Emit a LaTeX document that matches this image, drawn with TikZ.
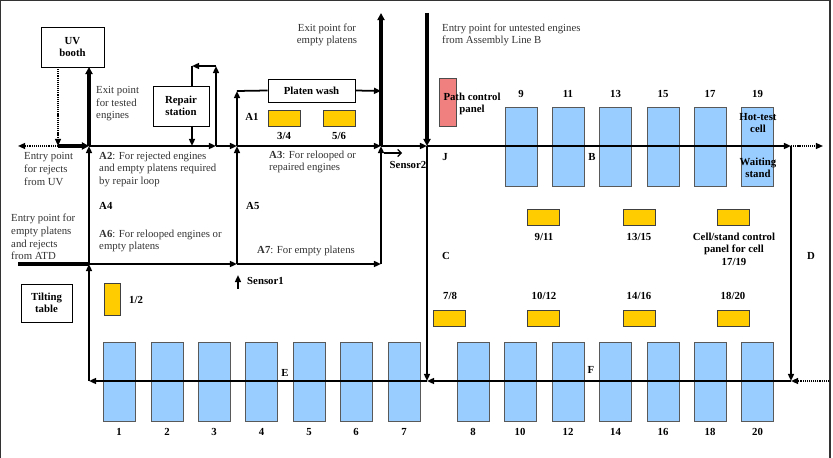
\documentclass[tikz,border=0pt]{standalone}
\usepackage{fontspec}
\setmainfont{Liberation Serif}
\usetikzlibrary{arrows.meta}
\definecolor{cellblue}{RGB}{153,204,255}
\definecolor{panelyellow}{RGB}{255,204,0}
\definecolor{panelpink}{RGB}{240,128,128}
\begin{document}
\begin{tikzpicture}[x=0.03cm,y=-0.03cm,
  every node/.style={font=\fontsize{9.2pt}{10.7pt}\selectfont, inner sep=0pt},
  lbl/.style={text=black!80, align=left},
  bl/.style={font=\fontsize{9.2pt}{10.7pt}\selectfont\bfseries, align=center},
  wbox/.style={draw, line width=0.8pt, fill=white, font=\fontsize{9.2pt}{10.7pt}\selectfont\bfseries, align=center},
  cellbox/.style={draw=black!65, line width=0.6pt, fill=cellblue, minimum width=0.96cm, minimum height=2.37cm},
  ybox/.style={draw=black!75, line width=0.6pt, fill=panelyellow, minimum width=0.96cm, minimum height=0.48cm},
  ln/.style={line width=1.5pt},
  ar/.style={line width=1.5pt, -{Triangle[length=6pt,width=5pt]}},
  thk/.style={line width=3.2pt},
  thkar/.style={line width=3.2pt, -{Triangle[length=6pt,width=6pt]}},
  dotar/.style={line width=1.3pt, dash pattern=on 1pt off 0.8pt, -{Triangle[length=6pt,width=5pt]}},
  dotln/.style={line width=1.3pt, dash pattern=on 1pt off 0.8pt}
]
\useasboundingbox (0,0) rectangle (833,458);
\draw[line width=1pt, black!80] (0.6,458) -- (0.6,0.6) -- (830,0.6) -- (830,458);

% ---------- cells ----------
\foreach \n/\x in {1/119,2/167,3/214,4/261.5,5/309,6/356,7/404,8/473,10/520,12/568,14/615.5,16/663,18/710,20/757.5}{
  \node[cellbox] (c\n) at (\x,381.5) {};
  \node[bl] (n\n) at (\x,432) {\n};
}
\foreach \n/\x in {9/521,11/568,13/615.5,15/663,17/710,19/757.5}{
  \node[cellbox] (c\n) at (\x,146.5) {};
  \node[bl] (n\n) at (\x,94) {\n};
}

% ---------- panels ----------
\node[ybox] (p34) at (284,118) {};
\node[ybox] (p56) at (339,118) {};
\node[ybox, minimum width=0.48cm, minimum height=0.96cm] (p12) at (112,299) {};
\node[ybox] (p911) at (543.5,217) {};
\node[ybox] (p1315) at (639,217) {};
\node[ybox] (p1719) at (733,217) {};
\node[ybox] (p78) at (449,318) {};
\node[ybox] (p1012) at (543.5,318) {};
\node[ybox] (p1416) at (639,318) {};
\node[ybox] (p1820) at (733,318) {};
\node[draw=black!70, line width=0.6pt, fill=panelpink, minimum width=0.51cm, minimum height=1.44cm] (pcp) at (447.5,102) {};

% ---------- boxes ----------
\node[wbox, minimum width=1.89cm, minimum height=1.2cm] (uv) at (72.5,47) {UV\\booth};
\node[wbox, minimum width=1.68cm, minimum height=1.2cm] (rep) at (181,106) {Repair\\station};
\node[wbox, minimum width=2.61cm, minimum height=0.69cm] (pw) at (311.5,90.5) {Platen wash};
\node[wbox, minimum width=1.53cm, minimum height=1.14cm] (tilt) at (46.5,303) {Tilting\\table};

% ---------- coordinates ----------
\coordinate (uvd) at (58,67);
\coordinate (j1) at (58,146);
\coordinate (l1) at (18,146);
\coordinate (x1) at (89,146);
\coordinate (x1t) at (89,67);
\coordinate (r1) at (192,146);
\coordinate (r1t) at (192,126);
\coordinate (r2) at (216,146);
\coordinate (r3) at (216,66);
\coordinate (r4) at (192,66);
\coordinate (r4b) at (192,86);
\coordinate (x2) at (237,146);
\coordinate (x2t) at (237,91);
\coordinate (pwr) at (381,91);
\coordinate (x3) at (381,146);
\coordinate (x3t) at (381,13);
\coordinate (x3b) at (381,264);
\coordinate (x4) at (427,146);
\coordinate (x4t) at (427,13);
\coordinate (x4b) at (427,381);
\coordinate (x5) at (791,146);
\coordinate (x5r) at (823,146);
\coordinate (x5b) at (791,381);
\coordinate (x5bd) at (829,381);
\coordinate (y1) at (89,264);
\coordinate (y2) at (237,264);
\coordinate (lt) at (18,264);
\coordinate (e1) at (89,381);
\coordinate (s1a) at (238,289);
\coordinate (s1b) at (238,275);
\coordinate (s2a) at (384,153);
\coordinate (s2b) at (402,153);

% ---------- connectors ----------
\draw[dotar] (uvd) -- (j1);
\draw[dotar] (j1) -- (l1);
\draw[thkar] (j1) -- (x1);
\draw[thkar] (x1) -- (x1t);
\draw[ar] (x1) -- (r2);
\draw[ar] (r1t) -- (r1);
\draw[ar] (r2) -- (r3);
\draw[ar] (r3) -- (r4);
\draw[ln] (r4) -- (r4b);
\draw[ar] (r2) -- (x2);
\draw[ar] (x2) -- (x3);
\draw[ar] (x2) -- (x2t);
\draw[ln] (x2t) -- (pw.west);
\draw[ar] (pw.east) -- (pwr);
\draw[thkar] (x3) -- (x3t);
\draw[ar] (x3) -- (x4);
\draw[thkar] (x4t) -- (x4);
\draw[ar] (x4) -- (x5);
\draw[dotar] (x5) -- (x5r);
\draw[ar] (x5) -- (x5b);
\draw[dotar] (x5bd) -- (x5b);
\draw[ar] (x5b) -- (x4b);
\draw[ar] (x4) -- (x4b);
\draw[ar] (x4b) -- (e1);
\draw[ar] (e1) -- (y1);
\draw[ar] (y1) -- (x1);
\draw[thk] (lt) -- (y1);
\draw[ar] (y1) -- (y2);
\draw[ar] (y2) -- (x2);
\draw[ar] (y2) -- (x3b);
\draw[ar] (x3b) -- (x3);
\draw[ar] (s1a) -- (s1b);
\draw[line width=1pt, -{Straight Barb[length=3pt,width=6pt]}] (s2a) -- (s2b);

% ---------- texts ----------
\node[lbl, anchor=west] (t1) at (96,104) {Exit point\\for tested\\engines};
\node[lbl, anchor=west] (t2) at (24,169) {Entry point\\for rejects\\from UV};
\node[lbl, anchor=west] (t3) at (11,237) {Entry point for\\empty platens\\and rejects\\from ATD};
\node[lbl, align=center] (t4) at (327,35) {Exit point for\\empty platens};
\node[lbl, anchor=west] (t5) at (442,35) {Entry point for untested engines\\from Assembly Line B};
\node[lbl, anchor=west] (t6) at (99,169) {\textbf{A2}: For rejected engines\\and empty platens required\\by repair loop};
\node[lbl, anchor=west] (t7) at (269,162) {\textbf{A3}: For relooped or\\repaired engines};
\node[lbl, anchor=west] (t8) at (99,241) {\textbf{A6}: For relooped engines or\\empty platens};
\node[lbl, anchor=west] (t9) at (257,251) {\textbf{A7}: For empty platens};
\node[bl, anchor=west] (a4) at (99,206) {A4};
\node[bl, anchor=west] (a5) at (246,206) {A5};
\node[bl] (a1) at (252,117) {A1};
\node[bl] (l34) at (284,136) {3/4};
\node[bl] (l56) at (339,136) {5/6};
\node[bl] (l12) at (136,300) {1/2};
\node[bl, anchor=west] (sen1) at (247,281) {Sensor1};
\node[bl] (sen2) at (408,165) {Sensor2};
\node[bl] (lj) at (445,157) {J};
\node[bl] (lb) at (592,157) {B};
\node[bl] (lc) at (446,256) {C};
\node[bl] (ld) at (811,256) {D};
\node[bl] (le) at (285,373) {E};
\node[bl] (lf) at (591,370) {F};
\node[bl] (lpcp) at (472,104) {Path control\\panel};
\node[bl] (lhot) at (758,123) {Hot-test\\cell};
\node[bl] (lwait) at (758,168) {Waiting\\stand};
\node[bl] (l911) at (544,237) {9/11};
\node[bl] (l1315) at (639,237) {13/15};
\node[bl] (l1719) at (734,249) {Cell/stand control\\panel for cell\\17/19};
\node[bl] (l78) at (450,296) {7/8};
\node[bl] (l1012) at (544,296) {10/12};
\node[bl] (l1416) at (639,296) {14/16};
\node[bl] (l1820) at (733,296) {18/20};
\end{tikzpicture}
\end{document}
